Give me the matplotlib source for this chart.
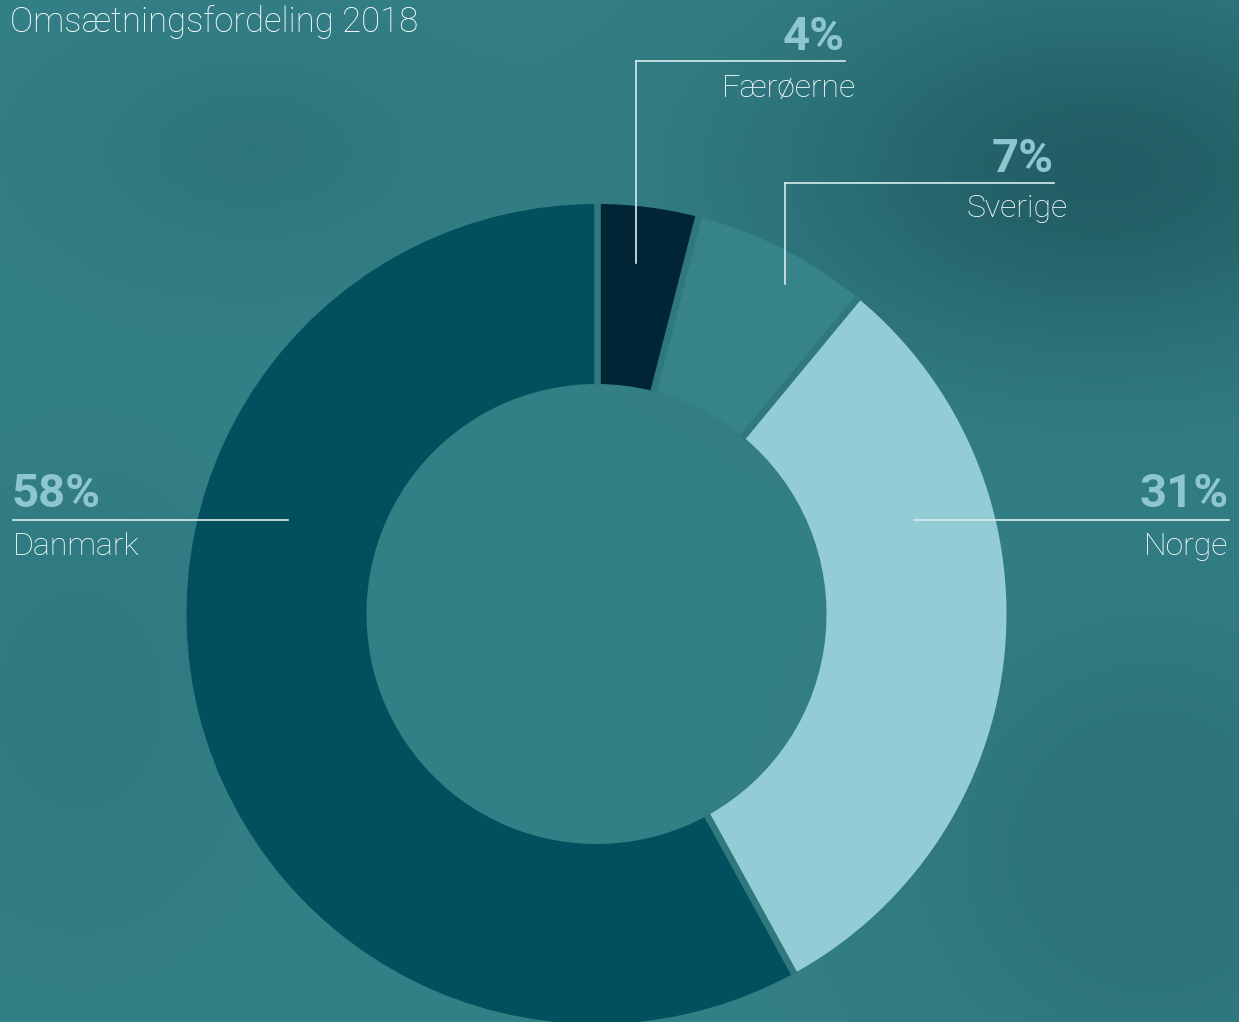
import numpy as np
import matplotlib
matplotlib.use("Agg")
import matplotlib.pyplot as plt

# Data
countries = ["Færøerne", "Sverige", "Norge", "Danmark"]
shares = [4, 7, 31, 58]
slice_colors = ["#012535", "#36838a", "#94ccd5", "#02505d"]

W, H = 1239, 1022
plt.rcParams["font.family"] = ["Roboto", "DejaVu Sans"]


def fy(y):
    # pixel row (from top) -> data y (from bottom)
    return H - y


fig = plt.figure(figsize=(W / 100, H / 100), dpi=100)
ax = fig.add_axes([0, 0, 1, 1])

# cloudy teal backdrop (smooth shading)
xx, yy = np.meshgrid(np.arange(W), np.arange(H))
base = np.array([0x33, 0x80, 0x86]) / 255.0
dark = np.array([0x1f, 0x58, 0x5f]) / 255.0
w = 0.85 * np.exp(-(((xx - 1100) / 330.0) ** 2 + ((yy - 170) / 190.0) ** 2))
w += 0.35 * np.exp(-(((xx - 1150) / 250.0) ** 2 + ((yy - 850) / 250.0) ** 2))
w += 0.25 * np.exp(-(((xx - 250) / 200.0) ** 2 + ((yy - 150) / 120.0) ** 2))
w += 0.2 * np.exp(-(((xx - 80) / 150.0) ** 2 + ((yy - 700) / 200.0) ** 2))
w = np.clip(w, 0, 1)[..., None]
bg = base * (1 - w) + dark * w
ax.imshow(bg, extent=(0, W, 0, H), origin="upper", zorder=0)

# donut
cx, cy, r_out, ring = 596.5, fy(614), 410, 180
wedges, _ = ax.pie(shares, colors=slice_colors, startangle=90, counterclock=False,
                   center=(cx, cy), radius=r_out, frame=True,
                   wedgeprops=dict(width=ring, linewidth=0, zorder=2))

# thin gaps between the slices
for wd in wedges:
    a = np.deg2rad(wd.theta1)
    rr = np.array([r_out - ring - 2, r_out + 2])
    ax.plot(cx + rr * np.cos(a), cy + rr * np.sin(a), color="#2e787e",
            linewidth=4.8, solid_capstyle="butt", zorder=2.5)

ax.set_xlim(0, W)
ax.set_ylim(0, H)
ax.set_aspect("equal")
ax.axis("off")

ax.text(10, fy(22), "Omsætningsfordeling 2018", color="white", fontsize=25,
        fontweight="light", va="center", ha="left")

line_kw = dict(color="#d8ecef", linewidth=1.2, zorder=3)
pct_kw = dict(color="#8ec6cf", fontsize=34, fontweight="bold", va="baseline", zorder=4)
lab_kw = dict(color="white", fontsize=23, fontweight="light", va="baseline", zorder=4)

# Færøerne
ax.plot([636, 845], [fy(61), fy(61)], **line_kw)
ax.plot([636, 636], [fy(61), fy(263)], **line_kw)
ax.text(845, fy(50), f"{shares[0]}%", ha="right", **pct_kw)
ax.text(856, fy(97), countries[0], ha="right", **lab_kw)

# Sverige
ax.plot([785, 1054], [fy(183), fy(183)], **line_kw)
ax.plot([785, 785], [fy(183), fy(284)], **line_kw)
ax.text(1054, fy(172), f"{shares[1]}%", ha="right", **pct_kw)
ax.text(1068, fy(217), countries[1], ha="right", **lab_kw)

# Norge
ax.plot([914, 1229], [fy(520), fy(520)], **line_kw)
ax.text(1229, fy(507), f"{shares[2]}%", ha="right", **pct_kw)
ax.text(1228, fy(555), countries[2], ha="right", **lab_kw)

# Danmark
ax.plot([13, 288], [fy(520), fy(520)], **line_kw)
ax.text(12, fy(507), f"{shares[3]}%", ha="left", **pct_kw)
ax.text(13, fy(555), countries[3], ha="left", **lab_kw)

fig.savefig("out.png", dpi=100)
